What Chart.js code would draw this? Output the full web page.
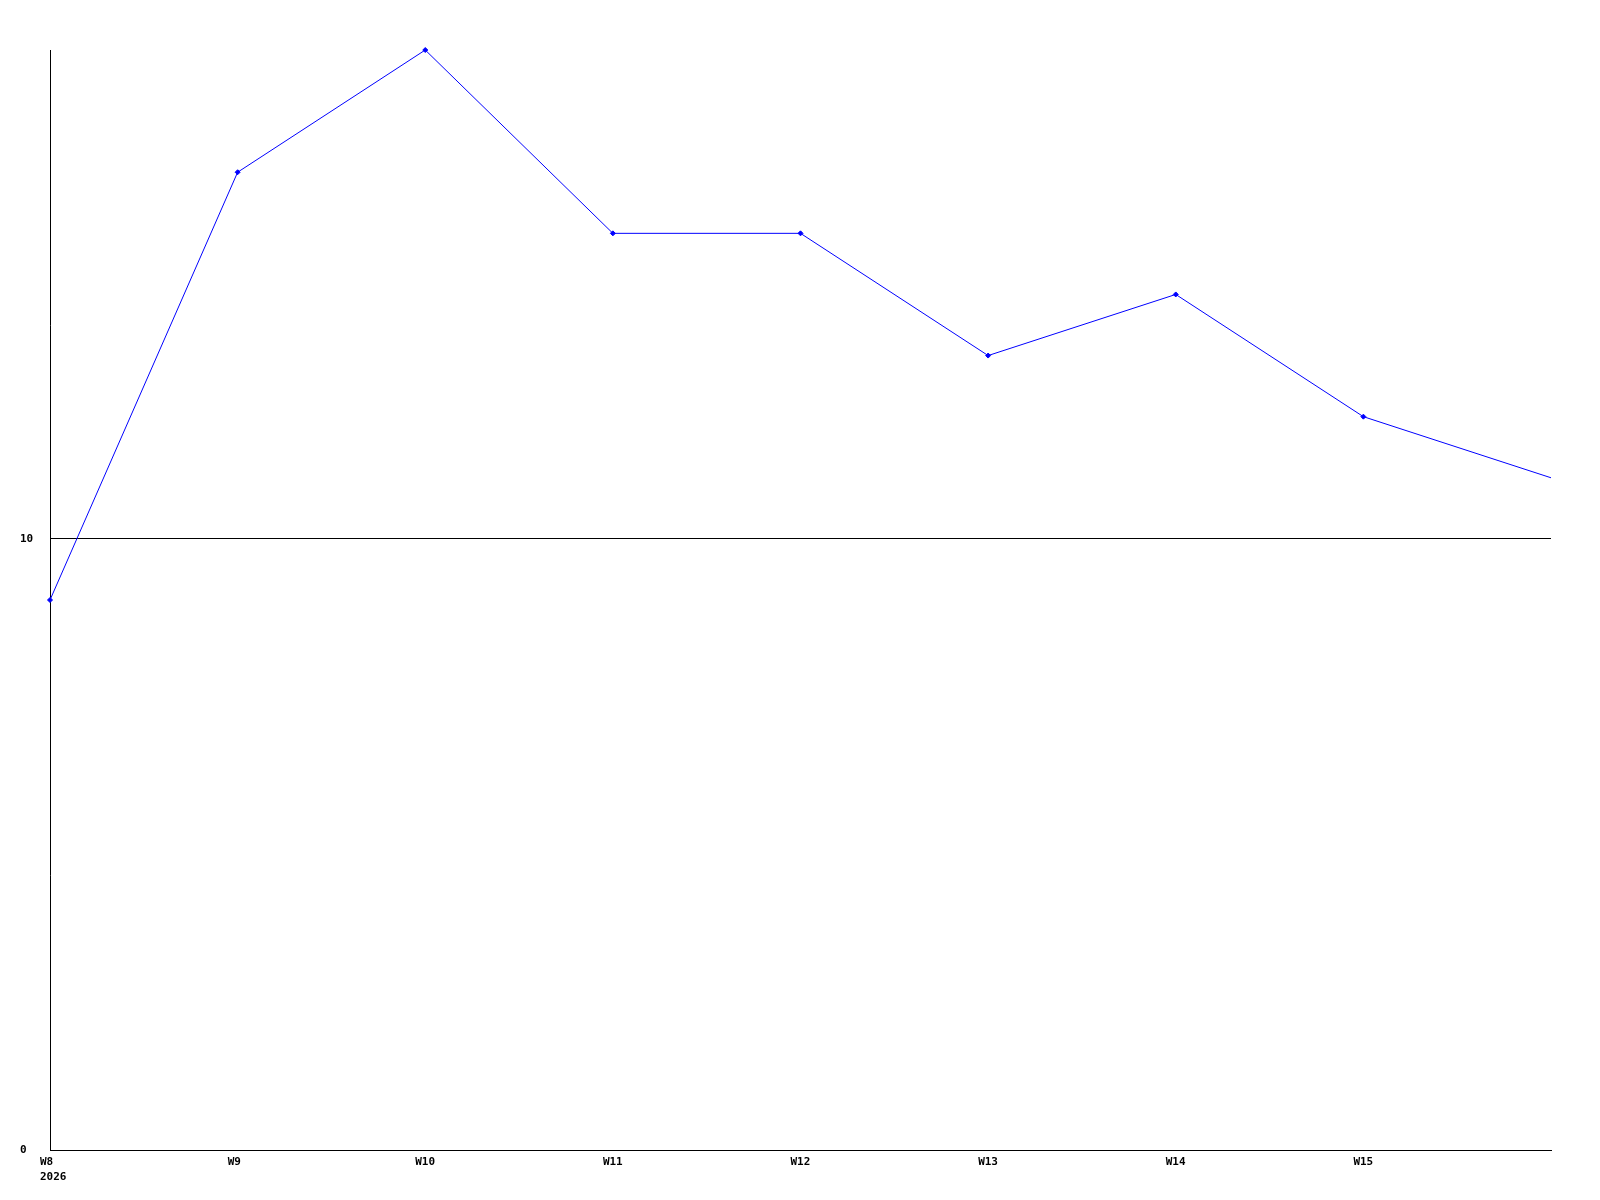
<!DOCTYPE html>
<html>
<head>
<meta charset="utf-8">
<script src="https://cdn.jsdelivr.net/npm/chart.js@4/dist/chart.umd.min.js"></script>
<style>
  html, body { margin: 0; padding: 0; background: #fff; }
  #wrap { width: 1600px; height: 1200px; }
</style>
</head>
<body>
<div id="wrap"><canvas id="chart"></canvas></div>
<script>
const weeks = ["W8", "W9", "W10", "W11", "W12", "W13", "W14", "W15", "W16"];
const yearLabel = "2026";
const values = [9, 16, 18, 15, 15, 13, 14, 12, 11];
const yTicks = [0, 10];

const font = { family: "'DejaVu Sans Mono', monospace", size: 11, weight: "bold", lineHeight: "15px" };

new Chart(document.getElementById("chart"), {
  type: "line",
  data: {
    labels: weeks,
    datasets: [{
      data: values,
      borderColor: "#0000ff",
      backgroundColor: "#0000ff",
      borderWidth: 1,
      tension: 0,
      clip: false,
      pointStyle: "rectRot",
      pointRadius: values.map((v, i) => i === values.length - 1 ? 0 : 2.5),
      pointBorderWidth: 1,
    }],
  },
  options: {
    responsive: true,
    maintainAspectRatio: false,
    animation: false,
    events: [],
    layout: { padding: { left: 20, right: 49, top: 50, bottom: 0 } },
    plugins: { legend: { display: false }, tooltip: { enabled: false } },
    scales: {
      x: {
        grid: { display: false, drawTicks: false },
        border: { display: true, color: "#000", width: 1 },
        afterFit: (s) => { s.height = 50; },
        ticks: {
          color: "#000",
          font,
          align: "start",
          labelOffset: -10,
          padding: 5,
          maxRotation: 0,
          autoSkip: false,
          callback: (v, i) => {
            if (i === weeks.length - 1) return "";
            return i === 0 ? [weeks[i], yearLabel] : weeks[i];
          },
        },
      },
      y: {
        min: 0,
        max: 18,
        afterFit: (s) => { s.width = 30; },
        grid: { color: "#000", lineWidth: 1, drawTicks: false },
        border: { display: true, color: "#000", width: 1 },
        afterBuildTicks: (s) => { s.ticks = yTicks.map((v) => ({ value: v })); },
        ticks: {
          color: "#000",
          font,
          crossAlign: "far",
          padding: 0,
        },
      },
    },
  },
});
</script>
</body>
</html>
